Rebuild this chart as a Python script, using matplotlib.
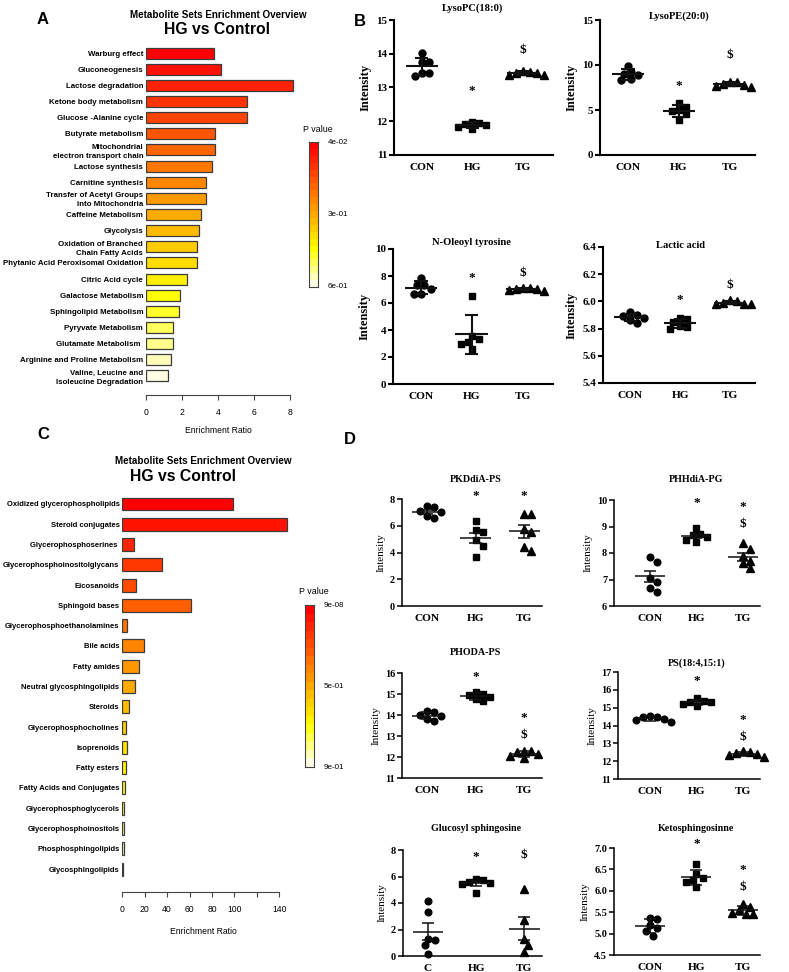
import numpy as np
import matplotlib.pyplot as plt
from matplotlib.colors import LinearSegmentedColormap

# ---- data: panel A (enrichment, HG vs Control, pathways)
a_names = ["Warburg effect", "Gluconeogenesis", "Lactose degradation", "Ketone body metabolism",
           "Glucose -Alanine cycle", "Butyrate metabolism", "Mitochondrial\nelectron transport chain",
           "Lactose synthesis", "Carnitine synthesis", "Transfer of Acetyl Groups\ninto Mitochondria",
           "Caffeine Metabolism", "Glycolysis", "Oxidation of Branched\nChain Fatty Acids",
           "Phytanic Acid Peroxisomal Oxidation", "Citric Acid cycle", "Galactose Metabolism",
           "Sphingolipid Metabolism", "Pyryvate Metabolism", "Glutamate Metabolism ",
           "Arginine and Proline Metabolism", "Valine, Leucine and\nIsoleucine Degradation"]
a_ratio = [3.76, 4.17, 8.13, 5.61, 5.61, 3.85, 3.85, 3.65, 3.32, 3.32, 3.04,
           2.93, 2.81, 2.81, 2.28, 1.91, 1.83, 1.52, 1.48, 1.39, 1.22]
a_p = [0.04, 0.05, 0.07, 0.09, 0.10, 0.12, 0.13, 0.14, 0.17, 0.18, 0.20,
       0.22, 0.25, 0.26, 0.30, 0.35, 0.37, 0.42, 0.43, 0.50, 0.60]
a_cbar = ["4e-02", "3e-01", "6e-01"]

# ---- data: panel C (enrichment, HG vs Control, lipid classes)
c_names = ["Oxidized glycerophospholipids", "Steroid conjugates", "Glycerophosphoserines ",
           "Glycerophosphoinositolglycans", "Eicosanoids", "Sphingoid bases",
           "Glycerophosphoethanolamines", "Bile acids", "Fatty amides", "Neutral glycosphingolipids",
           "Steroids", "Glycerophosphocholines", "Isoprenoids", "Fatty esters",
           "Fatty Acids and Conjugates", "Glycerophosphoglycerols", "Glycerophosphoinositols",
           "Phosphosphingolipids", "Glycosphingolipids"]
c_ratio = [98.4, 146.5, 10.1, 35.6, 12.2, 61.5, 4.5, 19.3, 14.9, 11.6,
           6.0, 3.0, 4.5, 3.3, 2.1, 1.5, 1.5, 1.4, 0.3]
c_p = [9e-08, 1e-06, 0.001, 0.005, 0.01, 0.03, 0.05, 0.08, 0.10, 0.15,
       0.20, 0.30, 0.35, 0.40, 0.50, 0.60, 0.70, 0.80, 0.90]
c_cbar = ["9e-08", "5e-01", "9e-01"]

# ---- data: panels B and D (intensity per group)
groups = ["CON", "HG", "TG"]
groups_c = ["C", "HG", "TG"]

lysopc = [[14.03, 13.75, 13.75, 13.44, 13.44, 13.34],
          [11.97, 11.95, 11.92, 11.88, 11.84, 11.76],
          [13.50, 13.47, 13.44, 13.42, 13.38, 13.37]]
lysope = [[9.93, 9.2, 9.0, 8.9, 8.4, 8.3],
          [5.75, 5.3, 4.95, 4.9, 4.5, 3.9],
          [8.15, 8.1, 7.9, 7.8, 7.7, 7.6]]
oleoyl = [[7.85, 7.35, 7.35, 7.0, 6.65, 6.65],
          [6.5, 3.55, 3.3, 3.1, 2.95, 2.6],
          [7.1, 7.1, 7.05, 7.0, 6.95, 6.9]]
lactic = [[5.92, 5.90, 5.89, 5.88, 5.86, 5.84],
          [5.88, 5.87, 5.85, 5.82, 5.81, 5.80],
          [6.01, 6.00, 5.99, 5.98, 5.98, 5.98]]
pkddia = [[7.48, 7.38, 7.1, 7.0, 6.75, 6.55],
          [6.33, 5.7, 5.5, 4.95, 4.5, 3.65],
          [6.87, 6.87, 5.77, 5.5, 4.4, 4.1]]
phhdia = [[7.84, 7.66, 7.07, 6.92, 6.67, 6.53],
          [8.95, 8.72, 8.68, 8.6, 8.5, 8.42],
          [8.36, 8.16, 7.9, 7.7, 7.62, 7.42]]
phoda = [[14.17, 14.15, 14.0, 13.95, 13.82, 13.72],
         [15.1, 15.0, 14.95, 14.85, 14.75, 14.65],
         [12.3, 12.28, 12.22, 12.15, 12.05, 11.95]]
ps18 = [[14.55, 14.5, 14.45, 14.38, 14.3, 14.2],
        [15.56, 15.35, 15.3, 15.3, 15.2, 15.1],
        [12.55, 12.5, 12.45, 12.4, 12.35, 12.25]]
glucosyl = [[4.15, 3.35, 1.3, 1.2, 0.8, 0.15],
            [5.82, 5.7, 5.62, 5.5, 5.45, 4.75],
            [5.08, 2.75, 1.3, 0.8, 0.3]]
keto = [[5.37, 5.35, 5.2, 5.12, 5.05, 4.95],
        [6.62, 6.4, 6.3, 6.25, 6.2, 6.1],
        [5.7, 5.62, 5.55, 5.48, 5.45, 5.45]]

# significance marks: (group index, symbol, height)
lysopc_marks = [(1, "*", 12.9), (2, "$", 14.1)]
lysope_marks = [(1, "*", 7.67), (2, "$", 11.1)]
oleoyl_marks = [(1, "*", 7.83), (2, "$", 8.25)]
lactic_marks = [(1, "*", 6.01), (2, "$", 6.12)]
pkddia_marks = [(1, "*", 8.25), (2, "*", 8.25)]
phhdia_marks = [(1, "*", 9.87), (2, "*", 9.75), (2, "$", 9.1)]
phoda_marks = [(1, "*", 15.81), (2, "*", 13.84), (2, "$", 13.05)]
ps18_marks = [(1, "*", 16.48), (2, "*", 14.33), (2, "$", 13.35)]
glucosyl_marks = [(1, "*", 7.5), (2, "$", 7.6)]
keto_marks = [(1, "*", 7.1), (2, "*", 6.48), (2, "$", 6.09)]

W, H = 789, 972
fig = plt.figure(figsize=(W / 100, H / 100), dpi=100)
SANS = "Liberation Sans"
SERIF = "Liberation Serif"


def box(l, t, r, b):
    return [l / W, 1 - b / H, (r - l) / W, (b - t) / H]


def ftext(x, y, s, **kw):
    fig.text(x / W, 1 - y / H, s, **kw)


heat = LinearSegmentedColormap.from_list("heat", [(0, "#FF0000"), (0.75, "#FFFF00"), (1, "#FFFFE6")])


def enrich(rect, names, ratios, pvals, xmax, ticks, ticklabels, bar_h, ylim, cbar, cbar_labels, lab_fs):
    ax = fig.add_axes(box(*rect))
    n = len(names)
    rank = np.argsort(np.argsort(pvals))
    ax.barh(np.arange(n), ratios, height=bar_h, color=heat(rank / (n - 1)),
            edgecolor="#3c3c3c", linewidth=0.9)
    ax.set_xlim(0, xmax)
    ax.set_ylim(*ylim)
    ax.set_yticks(np.arange(n))
    ax.set_yticklabels(names, fontsize=lab_fs, fontweight="bold", family=SANS, linespacing=1.4)
    ax.tick_params(axis="y", length=0, pad=2)
    for s in ["top", "right", "left"]:
        ax.spines[s].set_visible(False)
    ax.spines["bottom"].set_bounds(ticks[0], ticks[-1])
    ax.spines["bottom"].set_color("#444444")
    ax.set_xticks(ticks)
    ax.set_xticklabels(ticklabels, fontsize=6.2, family=SANS)
    ax.tick_params(axis="x", length=3.5, width=0.8, color="#444444", pad=6)
    # discrete colour key
    cax = fig.add_axes(box(*cbar))
    cax.imshow(heat(np.linspace(0, 1, n))[:, None, :], aspect="auto", interpolation="nearest")
    cax.set_xticks([])
    cax.set_yticks([])
    for s in cax.spines.values():
        s.set_color("#444444")
        s.set_linewidth(0.8)
    l, t, r, b = cbar
    ftext((l + r) / 2 + 4, t - 13, "P value", fontsize=6.4, family=SANS, ha="center", va="center")
    for lab, yy in zip(cbar_labels, [t, (t + b) / 2, b]):
        ftext(r + 10, yy, lab, fontsize=5.8, family=SANS, ha="left", va="center")
    return ax


def swarm(vals, ax, ylim, d=7.0):
    bb = ax.get_position()
    h_px = bb.height * H
    xl = ax.get_xlim()
    unit = bb.width * W / (xl[1] - xl[0])
    ys = (np.asarray(vals) - ylim[0]) / (ylim[1] - ylim[0]) * h_px
    offs = np.zeros(len(vals))
    placed = []
    cands = [0]
    for k in range(1, 12):
        cands += [k * d / 2, -k * d / 2]
    for i in np.argsort(vals)[::-1]:
        for c in cands:
            if all((c - px) ** 2 + (ys[i] - py) ** 2 >= d * d for px, py in placed):
                placed.append((c, ys[i]))
                offs[i] = c / unit
                break
    return offs


def dots(rect, xlim, title, title_y, labels, data, marks, ylim, yticks, fmt, err, bold_lab, lw, msize):
    ax = fig.add_axes(box(*rect))
    ax.set_xlim(*xlim)
    ax.set_ylim(*ylim)
    mk = ["o", "s", "^"]
    for i, v in enumerate(data):
        v = np.asarray(v)
        off = swarm(v, ax, ylim)
        ax.plot(i + off, v, ls="none", marker=mk[i], ms=msize if i != 2 else msize + 0.6,
                color="black", clip_on=False, zorder=2)
        m = v.mean()
        e = v.std(ddof=1)
        if err == "sem":
            e = e / np.sqrt(len(v))
        kw = dict(color="#111111", lw=lw, zorder=3, solid_capstyle="butt")
        ax.plot([i - 0.32, i + 0.32], [m, m], **kw)
        ax.plot([i, i], [m - e, m + e], **kw)
        ax.plot([i - 0.13, i + 0.13], [m + e, m + e], **kw)
        ax.plot([i - 0.13, i + 0.13], [m - e, m - e], **kw)
    for gi, sym, yy in marks:
        ax.text(gi, yy, sym, ha="center", va="center", fontsize=9.5, family=SERIF,
                fontweight="bold", clip_on=False)
    for s in ["top", "right"]:
        ax.spines[s].set_visible(False)
    for s in ["left", "bottom"]:
        ax.spines[s].set_linewidth(lw)
    ax.set_xticks(range(len(labels)))
    ax.set_xticklabels(labels, fontsize=8.2, family=SERIF, fontweight="bold")
    ax.set_yticks(yticks)
    ax.set_yticklabels([fmt.format(t) for t in yticks], fontsize=8 if bold_lab else 7.4,
                       family=SERIF, fontweight="bold")
    ax.tick_params(axis="x", length=0, pad=6)
    ax.tick_params(axis="y", length=3.5, width=lw, pad=1.5)
    ax.set_ylabel("Intensity", fontsize=9 if bold_lab else 8, family=SERIF,
                  fontweight="bold" if bold_lab else "normal", labelpad=3)
    l, t, r, b = rect
    cx = l + (1 - xlim[0]) / (xlim[1] - xlim[0]) * (r - l)
    ftext(cx, title_y, title, fontsize=7.6 if bold_lab else 7.2, family=SERIF,
          fontweight="bold", ha="center", va="center")
    return ax


# ---- panel A
ftext(43, 20, "A", fontsize=12, fontweight="bold", family=SANS, ha="center", va="center")
ftext(218, 15, "Metabolite Sets Enrichment Overview", fontsize=7.1, fontweight="bold",
      family=SANS, ha="center", va="center")
ftext(217, 30, "HG vs Control", fontsize=11.3, fontweight="bold", family=SANS, ha="center", va="center")
enrich((146, 44, 301, 395), a_names, a_ratio, a_p, 8.6, [0, 2, 4, 6, 8], ["0", "2", "4", "6", "8"],
       0.68, (21.18, -0.56), (309, 142, 318, 287), a_cbar, 5.7)
ftext(218, 430, "Enrichment Ratio", fontsize=6.2, family=SANS, ha="center", va="center")

# ---- panel C
ftext(43, 434, "C", fontsize=12, fontweight="bold", family=SANS, ha="center", va="center")
ftext(203, 461, "Metabolite Sets Enrichment Overview", fontsize=7.1, fontweight="bold",
      family=SANS, ha="center", va="center")
ftext(183, 476, "HG vs Control", fontsize=11.3, fontweight="bold", family=SANS, ha="center", va="center")
enrich((122.3, 490, 301.7, 892), c_names, c_ratio, c_p, 160, [0, 20, 40, 60, 80, 100, 120, 140],
       ["0", "20", "40", "60", "80", "100", "", "140"],
       0.64, (19.13, -0.69), (305, 605, 314, 767), c_cbar, 5.5)
ftext(203, 931, "Enrichment Ratio", fontsize=6.2, family=SANS, ha="center", va="center")

# ---- panel B
ftext(360, 22, "B", fontsize=12, fontweight="bold", family=SANS, ha="center", va="center")
dots((394, 20, 553, 155), (-0.55, 2.6), "LysoPC(18:0)", 8, groups, lysopc, lysopc_marks,
     (11, 15), [11, 12, 13, 14, 15], "{:g}", "sd", True, 1.5, 5)
dots((600, 20, 755, 155), (-0.55, 2.5), "LysoPE(20:0)", 16, groups, lysope, lysope_marks,
     (0, 15), [0, 5, 10, 15], "{:g}", "sd", True, 1.5, 5)
dots((393, 249, 553, 384), (-0.55, 2.6), "N-Oleoyl tyrosine", 242, groups, oleoyl, oleoyl_marks,
     (0, 10), [0, 2, 4, 6, 8, 10], "{:g}", "sd", True, 1.5, 5)
dots((603, 247, 755, 383), (-0.55, 2.5), "Lactic acid", 246, groups, lactic, lactic_marks,
     (5.4, 6.4), [5.4, 5.6, 5.8, 6.0, 6.2, 6.4], "{:.1f}", "sd", True, 1.5, 5)

# ---- panel D
ftext(350, 440, "D", fontsize=12, fontweight="bold", family=SANS, ha="center", va="center")
dots((402, 499, 542, 606), (-0.52, 2.37), "PKDdiA-PS", 479, groups, pkddia, pkddia_marks,
     (0, 8), [0, 2, 4, 6, 8], "{:g}", "sem", False, 1.1, 4.8)
dots((614, 500, 760, 606), (-0.77, 2.37), "PHHdiA-PG", 479, groups, phhdia, phhdia_marks,
     (6, 10), [6, 7, 8, 9, 10], "{:g}", "sem", False, 1.1, 4.8)
dots((402, 673, 542, 778), (-0.52, 2.37), "PHODA-PS", 652, groups, phoda, phoda_marks,
     (11, 16), [11, 12, 13, 14, 15, 16], "{:g}", "sd", False, 1.1, 4.8)
dots((618, 672, 760, 779), (-0.7, 2.37), "PS(18:4,15:1)", 663, groups, ps18, ps18_marks,
     (11, 17), [11, 12, 13, 14, 15, 16, 17], "{:g}", "sd", False, 1.1, 4.8)
dots((403, 850, 542, 956), (-0.52, 2.37), "Glucosyl sphingosine", 828, groups_c, glucosyl,
     glucosyl_marks, (0, 8), [0, 2, 4, 6, 8], "{:g}", "sem", False, 1.1, 4.8)
dots((614, 848, 760, 955), (-0.77, 2.37), "Ketosphingosinne", 828, groups, keto, keto_marks,
     (4.5, 7.0), [4.5, 5.0, 5.5, 6.0, 6.5, 7.0], "{:.1f}", "sd", False, 1.1, 4.8)

fig.savefig("out.png", dpi=100)
